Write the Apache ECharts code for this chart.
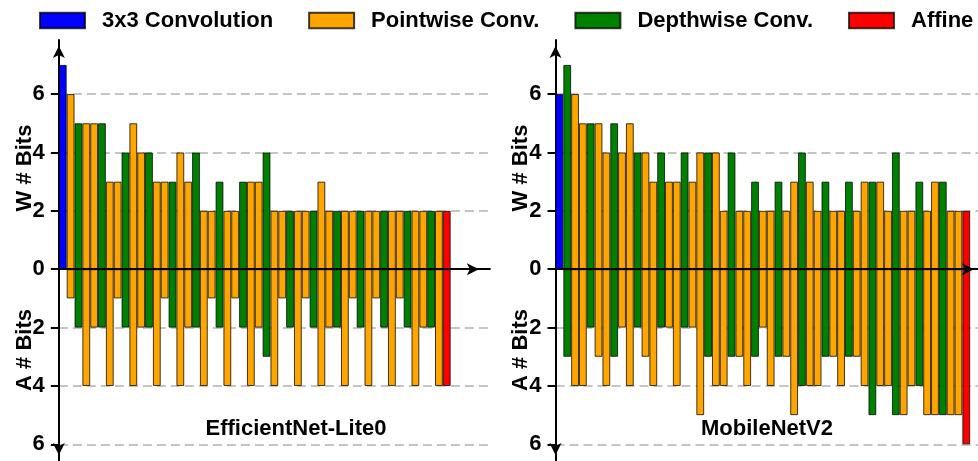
<!DOCTYPE html>
<html><head><meta charset="utf-8">
<script src="https://cdn.jsdelivr.net/npm/echarts@6/dist/echarts.min.js"></script>
<style>html,body{margin:0;padding:0;background:#fff}#c{width:978px;height:461px}</style>
</head><body><div id="c"></div>
<script>
// ---- data ----
const legendNames = ['3x3 Convolution', 'Pointwise Conv.', 'Depthwise Conv.', 'Affine'];
const typeCodes = ['C', 'P', 'D', 'A'];
const panelTitles = ['EfficientNet-Lite0', 'MobileNetV2'];
const yTickValues = [-6, -4, -2, 0, 2, 4, 6];

// layer types, in order (C = 3x3 conv, P = pointwise, D = depthwise, A = affine)
const effTypes = ['C','P',
  'D','P','P', 'D','P','P', 'D','P','P', 'D','P','P', 'D','P','P',
  'D','P','P', 'D','P','P', 'D','P','P', 'D','P','P', 'D','P','P',
  'D','P','P', 'D','P','P', 'D','P','P', 'D','P','P', 'D','P','P',
  'D','P','A'];
const effW = [7,6, 5,5,5, 5,3,3, 4,5,4, 4,3,3, 3,4,3, 4,2,2, 3,2,2, 3,3,3, 4,2,2, 2,2,2,
  2,3,2, 2,2,2, 2,2,2, 2,2,2, 2,2,2, 2,2,2];
const effA = [0,1, 2,4,2, 2,4,1, 2,4,2, 2,4,1, 2,4,2, 2,4,1, 2,4,1, 2,4,2, 3,4,1, 2,4,1,
  2,4,2, 2,4,1, 2,4,1, 2,4,1, 2,4,2, 2,4,4];

const mbTypes = ['C',
  'D','P','P', 'D','P','P', 'D','P','P', 'D','P','P', 'D','P','P', 'D','P','P',
  'D','P','P', 'D','P','P', 'D','P','P', 'D','P','P', 'D','P','P', 'D','P','P',
  'D','P','P', 'D','P','P', 'D','P','P', 'D','P','P', 'D','P','P',
  'A'];
const mbW = [6, 7,6,5, 5,5,4, 5,4,5, 4,4,3, 4,3,3, 4,3,4, 4,4,2, 4,2,2, 3,2,2, 3,2,3,
  4,3,2, 3,2,2, 3,2,3, 3,3,2, 4,2,2, 3,2,3, 3,2,2, 2];
const mbA = [0, 3,4,4, 2,3,4, 3,2,4, 2,3,4, 2,2,4, 2,2,5, 3,4,4, 3,3,4, 3,2,4, 3,3,5,
  4,4,4, 3,3,4, 3,3,4, 5,4,4, 5,5,4, 4,5,5, 5,5,5, 6];

// ---- styles / layout ----
const typeColors = ['#0000ff', '#ffa500', '#008000', '#ff0000'];
const FONT = 'Liberation Sans';
const panels = [
  {types: effTypes, w: effW, a: effA, title: panelTitles[0], bands: 55, left: 58.86, width: 431.0, titleX: 296, nameX: 25, xArrowOff: -11},
  {types: mbTypes, w: mbW, a: mbA, title: panelTitles[1], bands: 54, left: 555.5, width: 423.7, titleX: 767, nameX: 521, xArrowOff: -4}
];
const Y_MIN = -6.57, Y_MAX = 7.85, GRID_TOP = 40.08, GRID_H = 421.06;

const grids = [], xAxes = [], yAxes = [], series = [], graphics = [];
panels.forEach((p, pi) => {
  grids.push({left: p.left, top: GRID_TOP, width: p.width, height: GRID_H});
  const cats = [];
  for (let i = 0; i < p.bands; i++) cats.push(String(i + 1));
  xAxes.push({
    type: 'category', gridIndex: pi, data: cats, z: 5,
    axisLine: {show: true, onZero: true, lineStyle: {color: '#000', width: 2},
      symbol: ['none', 'arrow'], symbolSize: [9, 12], symbolOffset: [0, p.xArrowOff]},
    axisTick: {show: false}, axisLabel: {show: false}, splitLine: {show: false}
  });
  yAxes.push({
    type: 'value', gridIndex: pi, min: Y_MIN, max: Y_MAX, splitNumber: 7,
    axisLine: {show: true, lineStyle: {color: '#000', width: 2},
      symbol: ['arrow', 'arrow'], symbolSize: [9, 12], symbolOffset: [6, -6]},
    axisTick: {show: true, length: 8, customValues: yTickValues, lineStyle: {color: '#000', width: 2}},
    axisLabel: {show: true, customValues: yTickValues, margin: 14, fontSize: 22, fontWeight: 'bold',
      fontFamily: FONT, color: '#000', formatter: v => String(Math.abs(Math.round(v)))},
    splitLine: {show: true, lineStyle: {color: '#c4c4c4', width: 2, type: [9, 5]}}
  });
  typeCodes.forEach((code, ti) => {
    const wData = [], aData = [];
    for (let i = 0; i < p.bands; i++) {
      const ok = i < p.w.length && p.types[i] === code;
      wData.push(ok && p.w[i] ? p.w[i] : null);
      aData.push(ok && p.a[i] ? -p.a[i] : null);
    }
    [wData, aData].forEach(d => series.push({
      type: 'bar', name: legendNames[ti], xAxisIndex: pi, yAxisIndex: pi, data: d,
      barGap: '-100%', barCategoryGap: '0%', silent: true,
      itemStyle: {color: typeColors[ti], borderColor: 'rgba(0,0,0,0.75)', borderWidth: 1}
    }));
  });
  const txt = (text, x, y, rot) => ({
    type: 'text', x: x, y: y, rotation: rot, silent: true,
    style: {text: text, fontSize: 22, fontWeight: 'bold', fontFamily: FONT, fill: '#000',
      textAlign: 'center', textVerticalAlign: 'middle', align: 'center', verticalAlign: 'middle'}
  });
  graphics.push(txt('W # Bits', p.nameX, 168, Math.PI / 2));
  graphics.push(txt('A # Bits', p.nameX, 350, Math.PI / 2));
  graphics.push(txt(p.title, p.titleX, 429, 0));
});

const chart = echarts.init(document.getElementById('c'), null, {renderer: 'canvas'});
chart.setOption({
  animation: false,
  backgroundColor: '#fff',
  legend: {
    data: legendNames, left: 39, top: 9.5, padding: 0, width: 1200, itemWidth: 45, itemHeight: 15.6, itemGap: 35,
    icon: 'rect', selectedMode: false,
    textStyle: {fontSize: 22, fontWeight: 'bold', fontFamily: FONT, color: '#000', padding: [0, 0, 0, 12]}
  },
  grid: grids, xAxis: xAxes, yAxis: yAxes, series: series, graphic: graphics
});
</script></body></html>
